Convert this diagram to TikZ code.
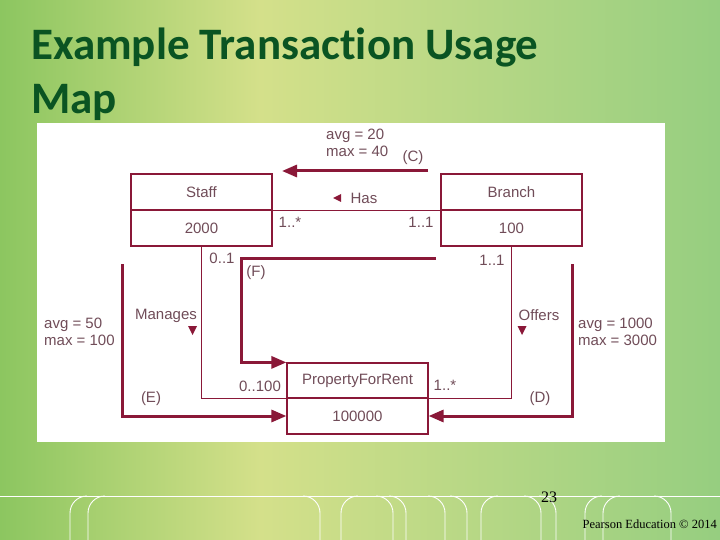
\documentclass[tikz,border=0pt]{standalone}
\usepackage{fontspec}
\setmainfont{Liberation Sans}
\newfontfamily\titlefont[Ligatures=NoCommon]{Carlito}
\newfontfamily\footfont{Liberation Serif}
\usetikzlibrary{arrows.meta}
\definecolor{bgL}{RGB}{140,198,96}
\definecolor{bgM}{RGB}{212,224,138}
\definecolor{bgR}{RGB}{150,206,128}
\definecolor{titlegreen}{RGB}{10,84,34}
\definecolor{maroon}{RGB}{138,24,56}
\definecolor{txt}{RGB}{112,76,88}
\tikzset{
  box/.style={draw=maroon, line width=1.2pt, minimum width=141pt, minimum height=36pt, inner sep=0pt, text=txt, font=\fontsize{15}{17}\selectfont},
  lbl/.style={inner sep=0pt, text=txt, font=\fontsize{15}{17}\selectfont},
  thin/.style={draw=maroon, line width=1.2pt},
  heavy/.style={draw=maroon, line width=3pt, -{Triangle[length=15pt,width=12pt]}},
  marker/.style={fill=maroon, draw=none},
  deco/.style={draw=white, line width=0.9pt}
}
\begin{document}
\begin{tikzpicture}[x=1pt, y=-1pt]
\useasboundingbox (0,0) rectangle (720,540);
% background
\shade[left color=bgL, right color=bgM, draw=none] (0,0) rectangle (260,540);
\shade[left color=bgM, right color=bgR, draw=none] (260,0) rectangle (720,540);
% title
\node[anchor=base west, inner sep=0pt, text=titlegreen, font=\titlefont\bfseries\fontsize{45}{45}\selectfont] (t1) at (31,60) {Example Transaction Usage};
\node[anchor=base west, inner sep=0pt, text=titlegreen, font=\titlefont\bfseries\fontsize{45}{45}\selectfont] (t2) at (31,114) {Map};
% white panel
\fill[white] (37,123) rectangle (665,442);
% boxes
\node[box] (staff) at (201.5,192) {Staff};
\node[box] (staffn) at (201.5,228) {2000};
\node[box] (branch) at (511.5,192) {Branch};
\node[box] (branchn) at (511.5,228) {100};
\node[box, minimum height=35pt] (pfr) at (357.5,380.5) {PropertyForRent};
\node[box] (pfrn) at (357.5,416) {100000};
% relationship lines
\draw[thin] (staff.south east) -- (branch.south west);
\draw[thin] (staffn.south) |- (pfr.south west);
\draw[thin] (branchn.south) |- (pfr.south east);
% access arrows
\coordinate (c1) at (428,171);
\coordinate (c2) at (282,171);
\draw[heavy] (c1) -- (c2);
\coordinate (f1) at (436,258);
\coordinate (f2) at (241,258);
\draw[heavy] (f1) -- (f2) |- (pfr.north west);
\coordinate (e1) at (122,264);
\draw[heavy] (e1) |- (pfrn.west);
\coordinate (d1) at (572,264);
\draw[heavy] (d1) |- (pfrn.east);
% labels
\node[lbl, anchor=west, align=left] (cl) at (326,142.5) {avg = 20\\max = 40};
\node[lbl] (cc) at (413,158) {(C)};
\node[lbl] (has) at (364,198) {Has};
\fill[marker] (333,198) -- (341,194) -- (341,202) -- cycle;
\node[lbl] (m1) at (290,222) {1..*};
\node[lbl] (m2) at (421,222) {1..1};
\node[lbl] (m3) at (222,258) {0..1};
\node[lbl] (fl) at (256,273) {(F)};
\node[lbl] (m4) at (492,260) {1..1};
\node[lbl] (man) at (166,316) {Manages};
\fill[marker] (188,326) -- (197,326) -- (192.5,335) -- cycle;
\node[lbl] (off) at (539,315) {Offers};
\fill[marker] (517.5,326) -- (526.5,326) -- (522,335) -- cycle;
\node[lbl, anchor=west, align=left] (el) at (44,331.5) {avg = 50\\max = 100};
\node[lbl, anchor=west, align=left] (dl) at (578,331.5) {avg = 1000\\max = 3000};
\node[lbl] (m5) at (260,386) {0..100};
\node[lbl] (m6) at (445,385) {1..*};
\node[lbl] (ee) at (151,399) {(E)};
\node[lbl] (dd) at (540,399) {(D)};
% bottom decoration
\draw[deco] (0,496) -- (720,496);
\foreach \x in {70,88,341,481,585,603} {
  \draw[deco] (\x+17,496) arc[start angle=-90, end angle=-180, radius=17] -- (\x,540);
}
\foreach \x in {320,393,406,445,467,541,556,671} {
  \draw[deco] (\x-17,496) arc[start angle=-90, end angle=0, radius=17] -- (\x,540);
}
% footer
\node[inner sep=0pt, font=\footfont\fontsize{16}{16}\selectfont] (pg) at (549,497) {23};
\node[anchor=east, inner sep=0pt, font=\footfont\fontsize{12.5}{12.5}\selectfont] (cp) at (717,524) {Pearson Education © 2014};
\end{tikzpicture}
\end{document}
